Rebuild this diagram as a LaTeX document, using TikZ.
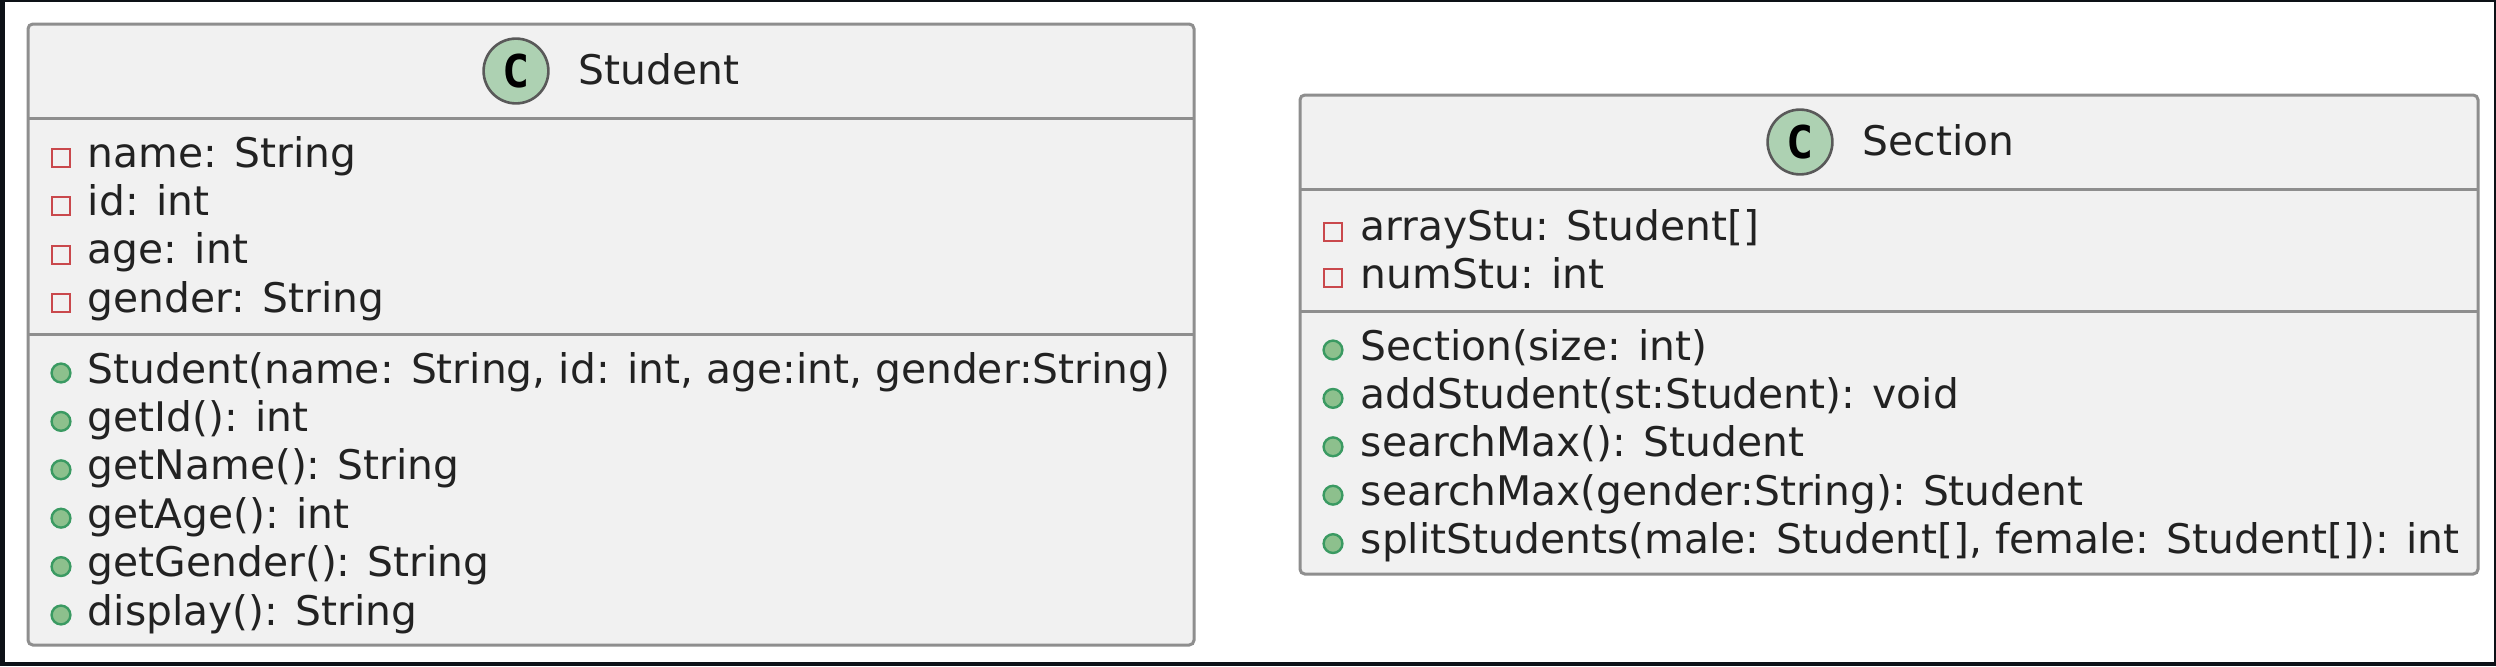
\documentclass[tikz,border=0pt]{standalone}
\usepackage{fontspec}
\setmainfont{DejaVu Sans}
\newfontfamily\badgefont{DejaVu Sans Mono}
\definecolor{pageedge}{HTML}{0D1117}
\definecolor{boxfill}{HTML}{F1F1F1}
\definecolor{boxline}{HTML}{8E8E8E}
\definecolor{privred}{HTML}{C9484C}
\definecolor{pubgreen}{HTML}{3A9A62}
\definecolor{pubfill}{HTML}{8DC08D}
\definecolor{badgefill}{HTML}{ADD1B2}
\definecolor{inktext}{HTML}{222222}

\begin{document}
\begin{tikzpicture}[x=.25pt,y=-.25pt,
  classbox/.style = {line width=.75pt,draw=boxline,fill=boxfill,rounded corners=1.2pt},
  classrule/.style = {line width=.75pt,draw=boxline},
  member/.style = {anchor=base west,inner sep=0pt,text=inktext,font=\fontsize{10.2}{12}\selectfont},
  privicon/.style = {draw=privred,line width=.6pt,minimum size=4.5pt,inner sep=0pt},
  pubicon/.style = {circle,draw=pubgreen,fill=pubfill,line width=.6pt,minimum size=4.7pt,inner sep=0pt},
  badge/.style = {circle,draw=black!65,fill=badgefill,line width=.65pt,minimum size=16.2pt,inner sep=0pt,
    font=\badgefont\fontsize{11.3}{12}\bfseries\selectfont}]

\fill[pageedge] (0,0) rectangle (2496,666);
\fill[white] (5,2) rectangle (2494,662);

\coordinate (stuA) at (28,24);
\coordinate (stuB) at (1194,645);
\coordinate (secA) at (1300,95);
\coordinate (secB) at (2478,574);

\draw[classbox] (stuA) rectangle (stuB);
\draw[classrule] (28,118) -- (1194,118);
\draw[classrule] (28,334) -- (1194,334);

\draw[classbox] (secA) rectangle (secB);
\draw[classrule] (1300,189) -- (2478,189);
\draw[classrule] (1300,311) -- (2478,311);

% Student
\node[badge] (stuBadge) at (516,71) {C};
\node[member] (stuTitle) at (578,84) {Student};

\node[privicon] (stuI1) at (61,158) {};
\node[member] (stuAttr1) at (87,167) {name: String};
\node[privicon] (stuI2) at (61,206) {};
\node[member] (stuAttr2) at (87,215.4) {id: int};
\node[privicon] (stuI3) at (61,255) {};
\node[member] (stuAttr3) at (87,263.8) {age: int};
\node[privicon] (stuI4) at (61,303) {};
\node[member] (stuAttr4) at (87,312.2) {gender: String};

\node[pubicon] (stuP1) at (61,373) {};
\node[member] (stuOp1) at (87,383) {Student(name: String, id: int, age:int, gender:String)};
\node[pubicon] (stuP2) at (61,421.4) {};
\node[member] (stuOp2) at (87,431.4) {getId(): int};
\node[pubicon] (stuP3) at (61,469.8) {};
\node[member] (stuOp3) at (87,479.8) {getName(): String};
\node[pubicon] (stuP4) at (61,518.2) {};
\node[member] (stuOp4) at (87,528.2) {getAge(): int};
\node[pubicon] (stuP5) at (61,566.6) {};
\node[member] (stuOp5) at (87,576.6) {getGender(): String};
\node[pubicon] (stuP6) at (61,615) {};
\node[member] (stuOp6) at (87,625) {display(): String};

% Section
\node[badge] (secBadge) at (1800,142) {C};
\node[member] (secTitle) at (1862,155) {Section};

\node[privicon] (secI1) at (1333,232) {};
\node[member] (secAttr1) at (1360,240) {arrayStu: Student[]};
\node[privicon] (secI2) at (1333,278) {};
\node[member] (secAttr2) at (1360,288) {numStu: int};

\node[pubicon] (secP1) at (1333,350) {};
\node[member] (secOp1) at (1360,360) {Section(size: int)};
\node[pubicon] (secP2) at (1333,398.4) {};
\node[member] (secOp2) at (1360,408.4) {addStudent(st:Student): void};
\node[pubicon] (secP3) at (1333,446.8) {};
\node[member] (secOp3) at (1360,456.8) {searchMax(): Student};
\node[pubicon] (secP4) at (1333,495.2) {};
\node[member] (secOp4) at (1360,505.2) {searchMax(gender:String): Student};
\node[pubicon] (secP5) at (1333,543.6) {};
\node[member] (secOp5) at (1360,553.6) {splitStudents(male: Student[], female: Student[]): int};

\end{tikzpicture}
\end{document}
